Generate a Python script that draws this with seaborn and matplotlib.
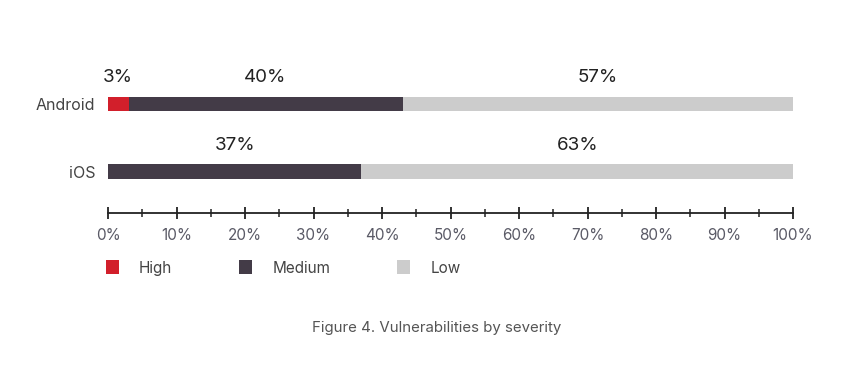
import pandas as pd
import matplotlib.pyplot as plt
import seaborn as sns
from matplotlib.patches import Patch
from matplotlib.ticker import MultipleLocator, PercentFormatter

# Data (percent of vulnerabilities per severity)
platforms = ["Android", "iOS"]
high = [3, 0]
medium = [40, 37]
low = [57, 63]
severities = ["High", "Medium", "Low"]
colors = ["#d21f2b", "#433b47", "#cccccc"]

df = pd.DataFrame({"platform": platforms, "High": high, "Medium": medium, "Low": low})
df["cum_high"] = df["High"]
df["cum_medium"] = df["High"] + df["Medium"]
df["cum_low"] = df["cum_medium"] + df["Low"]

sns.set_style("white")
plt.rcParams["font.family"] = ["Inter", "DejaVu Sans"]

fig = plt.figure(figsize=(8.6, 3.76), dpi=100)
ax = fig.add_axes([108 / 860, 1 - 213 / 376, 685 / 860, 133 / 376])

# stacked bars: draw the totals first, then the shorter segments on top
bar_w = 0.21
sns.barplot(data=df, x="cum_low", y="platform", color=colors[2], width=bar_w, ax=ax,
            saturation=1, linewidth=0)
sns.barplot(data=df, x="cum_medium", y="platform", color=colors[1], width=bar_w, ax=ax,
            saturation=1, linewidth=0)
sns.barplot(data=df[df["High"] > 0], x="cum_high", y="platform", color=colors[0], width=bar_w, ax=ax,
            saturation=1, linewidth=0, order=platforms)

# value labels centred above each segment
for i, row in df.iterrows():
    start = 0
    for sev in severities:
        val = row[sev]
        if val > 0:
            ax.text(start + val / 2, i - 0.39, f"{val}%", ha="center", va="center",
                    fontsize=13.5, color="#222222")
        start += val

ax.set_xlim(0, 100)
ax.set_ylim(1.615, -0.356)
ax.set_xlabel("")
ax.set_ylabel("")
ax.xaxis.set_major_locator(MultipleLocator(10))
ax.xaxis.set_minor_locator(MultipleLocator(5))
ax.xaxis.set_major_formatter(PercentFormatter(decimals=0))
ax.tick_params(axis="x", which="major", direction="inout", length=9, width=1.3, color="#222222",
               labelsize=11, labelcolor="#5a5a66", pad=6, bottom=True)
ax.tick_params(axis="x", which="minor", direction="inout", length=6, width=1.1, color="#222222", bottom=True)
ax.tick_params(axis="y", length=0, labelsize=11.5, labelcolor="#444444", pad=9)

for side in ["top", "right", "left"]:
    ax.spines[side].set_visible(False)
ax.spines["bottom"].set_color("#222222")
ax.spines["bottom"].set_linewidth(1.3)

handles = [Patch(facecolor=c, edgecolor="none", label=s) for s, c in zip(severities, colors)]
fig.legend(handles=handles, loc="center left", bbox_to_anchor=(100 / 860, 1 - 268 / 376), ncol=3,
           frameon=False, fontsize=11, handlelength=0.85, handleheight=1.0, handletextpad=1.3,
           columnspacing=4.4, labelcolor="#444444", borderaxespad=0)

fig.text(437 / 860, 1 - 328 / 376, "Figure 4. Vulnerabilities by severity", ha="center", va="center",
         fontsize=10.8, color="#555555")

plt.savefig("out.png", dpi=100)
